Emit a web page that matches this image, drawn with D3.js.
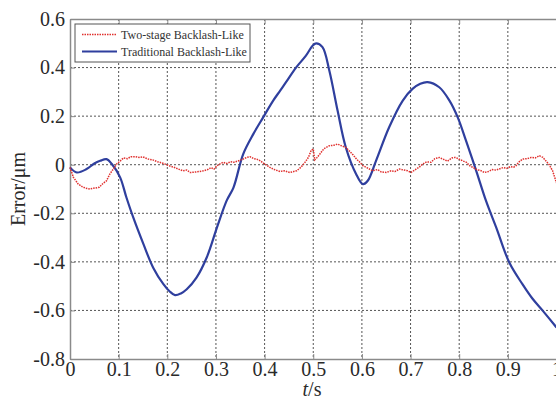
<!DOCTYPE html>
<html lang="en">
<head>
  <meta charset="UTF-8" />
  <title>Error curves</title>
  <style>
    body { margin: 0; background: #fff; }
    svg { display: block; }
    svg text { font-family: "Liberation Serif", "Times New Roman", serif; }
  </style>
  <script src="https://cdnjs.cloudflare.com/ajax/libs/d3/7.8.5/d3.min.js"></script>
</head>
<body>
<svg id="chart" width="556" height="401"></svg>

<script>
  const xTicks = [0, 0.1, 0.2, 0.3, 0.4, 0.5, 0.6, 0.7, 0.8, 0.9, 1];
  const yTicks = [-0.8, -0.6, -0.4, -0.2, 0, 0.2, 0.4, 0.6];
  const seriesNames = ['Two-stage Backlash-Like', 'Traditional Backlash-Like'];

  const blueT = [0, 0.014, 0.034, 0.05, 0.062, 0.075, 0.086, 0.103, 0.116, 0.13, 0.151, 0.171, 0.192, 0.205, 0.216,
    0.228, 0.24, 0.26, 0.281, 0.302, 0.322, 0.336, 0.356, 0.377, 0.397, 0.418, 0.432, 0.444, 0.465, 0.485, 0.499,
    0.506, 0.519, 0.533, 0.55, 0.567, 0.588, 0.602, 0.612, 0.629, 0.656, 0.684, 0.704, 0.72, 0.735, 0.759, 0.78,
    0.797, 0.814, 0.835, 0.855, 0.876, 0.903, 0.93, 0.95, 0.972, 1.0];
  const blueV = [-0.011, -0.032, -0.018, 0.005, 0.016, 0.023, 0.003, -0.052, -0.135, -0.217, -0.327, -0.424, -0.492,
    -0.522, -0.537, -0.53, -0.513, -0.465, -0.382, -0.259, -0.148, -0.094, 0.044, 0.127, 0.195, 0.265, 0.305, 0.34,
    0.401, 0.449, 0.491, 0.5, 0.484, 0.388, 0.223, 0.071, -0.038, -0.08, -0.066, 0.016, 0.154, 0.264, 0.312, 0.333,
    0.34, 0.319, 0.264, 0.195, 0.099, -0.025, -0.148, -0.258, -0.403, -0.492, -0.55, -0.602, -0.67];

  const redT = [0, 0.007, 0.017, 0.025, 0.031, 0.041, 0.051, 0.06, 0.068, 0.075, 0.082, 0.09, 0.096, 0.103, 0.11,
    0.118, 0.125, 0.134, 0.142, 0.15, 0.161, 0.17, 0.18, 0.188, 0.195, 0.205, 0.213, 0.223, 0.232, 0.24, 0.247,
    0.258, 0.266, 0.274, 0.283, 0.29, 0.296, 0.302, 0.31, 0.315, 0.322, 0.33, 0.336, 0.345, 0.356, 0.363, 0.37,
    0.378, 0.385, 0.391, 0.4, 0.411, 0.42, 0.432, 0.44, 0.452, 0.46, 0.466, 0.475, 0.483, 0.49, 0.496, 0.5, 0.503,
    0.508, 0.514, 0.522, 0.533, 0.542, 0.55, 0.558, 0.567, 0.575, 0.582, 0.589, 0.596, 0.602, 0.61, 0.622, 0.632,
    0.64, 0.65, 0.66, 0.668, 0.677, 0.686, 0.694, 0.701, 0.71, 0.718, 0.725, 0.733, 0.742, 0.75, 0.759, 0.768,
    0.776, 0.785, 0.792, 0.8, 0.808, 0.815, 0.822, 0.828, 0.836, 0.845, 0.852, 0.86, 0.868, 0.875, 0.882, 0.89,
    0.898, 0.905, 0.912, 0.917, 0.922, 0.93, 0.94, 0.948, 0.956, 0.965, 0.972, 0.978, 0.985, 0.992, 1.0];
  const redV = [-0.011, -0.052, -0.08, -0.09, -0.096, -0.1, -0.096, -0.093, -0.077, -0.066, -0.038, -0.015, 0.003,
    0.015, 0.028, 0.025, 0.033, 0.033, 0.03, 0.032, 0.023, 0.02, 0.012, 0.008, 0.003, -0.005, -0.01, -0.018, -0.025,
    -0.022, -0.032, -0.03, -0.028, -0.025, -0.02, -0.012, -0.018, -0.004, 0.005, 0.01, 0.005, 0.012, 0.01, 0.015,
    0.023, 0.03, 0.033, 0.025, 0.022, 0.016, 0.003, -0.011, -0.02, -0.028, -0.025, -0.032, -0.028, -0.025, -0.01,
    0.01, 0.03, 0.06, 0.065, 0.02, 0.03, 0.045, 0.066, 0.078, 0.08, 0.085, 0.078, 0.071, 0.055, 0.04, 0.023, 0.01,
    -0.004, -0.012, -0.025, -0.02, -0.03, -0.032, -0.025, -0.028, -0.018, -0.022, -0.025, -0.032, -0.02, -0.01,
    0.003, 0.012, 0.01, 0.025, 0.03, 0.022, 0.015, 0.028, 0.03, 0.023, 0.015, 0.01, -0.005, -0.011, -0.02, -0.025,
    -0.032, -0.028, -0.02, -0.022, -0.018, -0.012, -0.015, -0.008, -0.01, -0.004, 0.01, 0.023, 0.025, 0.03, 0.028,
    0.037, 0.03, 0.016, 0.0, -0.025, -0.075];

  const svg = d3.select('#chart');
  const plotLeft = 70, plotRight = 556.5, plotTop = 19, plotBottom = 359;

  const x = d3.scaleLinear().domain([0, 1]).range([plotLeft, plotRight]);
  const y = d3.scaleLinear().domain([-0.8, 0.6]).range([plotBottom, plotTop]);

  // plain hyphen for negatives, like the original
  const fmt = d => String(d);

  // dotted grid
  const grid = svg.append('g').attr('stroke', '#555').attr('stroke-width', 1).attr('stroke-dasharray', '2,2');
  grid.selectAll('.gx').data(xTicks.slice(1, -1)).enter().append('line')
    .attr('x1', d => x(d)).attr('x2', d => x(d))
    .attr('y1', plotTop).attr('y2', plotBottom);
  grid.selectAll('.gy').data(yTicks.slice(1, -1)).enter().append('line')
    .attr('x1', plotLeft).attr('x2', plotRight)
    .attr('y1', d => y(d)).attr('y2', d => y(d));

  const axisColor = '#8a8a8a';
  function styleAxis(g) {
    g.attr('font-family', null).attr('font-size', null);
    g.selectAll('.domain').attr('stroke', axisColor).attr('stroke-width', 1.5);
    g.selectAll('.tick line').attr('stroke', axisColor);
    g.selectAll('.tick text').attr('fill', '#2a2a2a')
      .style('font-size', '20px')
      .style('font-family', '"Liberation Serif", "Times New Roman", serif');
  }

  svg.append('g')
    .attr('transform', `translate(0,${plotBottom})`)
    .call(d3.axisBottom(x).tickValues(xTicks).tickSize(-5).tickPadding(3).tickFormat(fmt).tickSizeOuter(0))
    .call(styleAxis);

  svg.append('g')
    .attr('transform', `translate(0,${plotTop})`)
    .call(d3.axisTop(x).tickValues(xTicks).tickSize(-5).tickFormat('').tickSizeOuter(0))
    .call(styleAxis);

  svg.append('g')
    .attr('transform', `translate(${plotLeft},0)`)
    .call(d3.axisLeft(y).tickValues(yTicks).tickSize(-5).tickPadding(5).tickFormat(fmt).tickSizeOuter(0))
    .call(styleAxis);

  const line = d3.line().x(d => x(d[0])).y(d => y(d[1])).curve(d3.curveCatmullRom);

  svg.append('path')
    .datum(blueT.map((t, i) => [t, blueV[i]]))
    .attr('d', line)
    .attr('fill', 'none')
    .attr('stroke', '#2f3f9e')
    .attr('stroke-width', 2.2);

  svg.append('path')
    .datum(redT.map((t, i) => [t, redV[i]]))
    .attr('d', d3.line().x(d => x(d[0])).y(d => y(d[1])))
    .attr('fill', 'none')
    .attr('stroke', '#e0302e')
    .attr('stroke-width', 1.5)
    .attr('stroke-dasharray', '1.5,1');

  // legend
  const legend = svg.append('g');
  legend.append('rect')
    .attr('x', 75).attr('y', 24).attr('width', 175).attr('height', 38)
    .attr('fill', '#fff').attr('stroke', '#555').attr('stroke-width', 1);
  const legendStyles = [
    { color: '#e0302e', width: 1.4, dash: '1.5,1' },
    { color: '#2f3f9e', width: 2.2, dash: null }
  ];
  seriesNames.forEach((name, i) => {
    const ly = 34.5 + i * 17;
    legend.append('line')
      .attr('x1', 82).attr('x2', 117).attr('y1', ly).attr('y2', ly)
      .attr('stroke', legendStyles[i].color)
      .attr('stroke-width', legendStyles[i].width)
      .attr('stroke-dasharray', legendStyles[i].dash);
    legend.append('text')
      .attr('x', 121).attr('y', ly + 4)
      .attr('fill', '#333')
      .style('font-size', '12px')
      .text(name);
  });

  // axis titles
  svg.append('text')
    .attr('transform', 'translate(25,189) rotate(-90)')
    .attr('text-anchor', 'middle')
    .attr('fill', '#2a2a2a')
    .style('font-size', '20px')
    .text('Error/μm');

  const xTitle = svg.append('text')
    .attr('x', 312).attr('y', 396)
    .attr('text-anchor', 'middle')
    .attr('fill', '#2a2a2a')
    .style('font-size', '20px');
  xTitle.append('tspan').style('font-style', 'italic').text('t');
  xTitle.append('tspan').text('/s');
</script>
</body>
</html>
